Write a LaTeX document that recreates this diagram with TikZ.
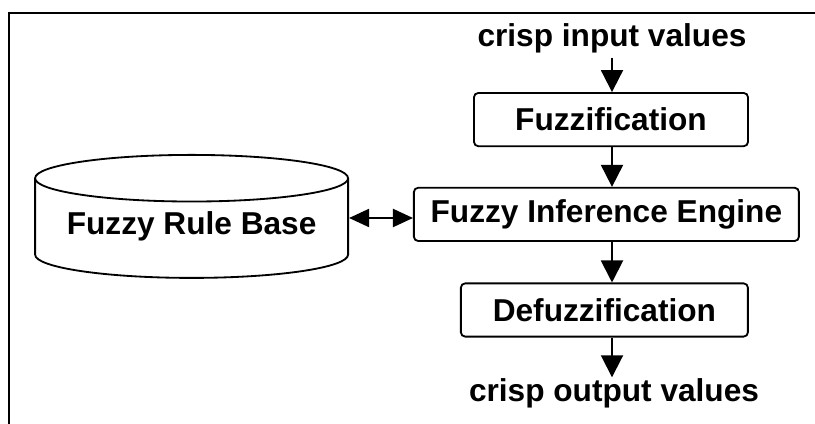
\documentclass[tikz,border=0pt]{standalone}
\usepackage{fontspec}
\setmainfont{Liberation Sans}
\usetikzlibrary{shapes, shapes.geometric, arrows.meta, calc, positioning}

\tikzset{
    stage/.style = {draw, rounded corners=3pt, line width=1.3pt, minimum height=1.33cm},
    flow/.style = {line width=1.4pt, -{Triangle[width=0.55cm, length=0.55cm]}}
}

\begin{document}
\begin{tikzpicture}[every node/.style = {font=\fontsize{22.5}{27}\selectfont\bfseries}]
        \useasboundingbox (0, 0) rectangle (20.375, 10.6);
        \draw [line width=1.4pt] (0.225, -0.2) -- (0.225, 10.275) -- (20.6, 10.275);

        \node[anchor=center] (Nin) at (15.3, 9.65) {crisp input values};

        \node[anchor=center, stage, minimum width=6.85cm] (Nfuz) at (15.275, 7.61) {Fuzzification};

        \node[anchor=center, stage, minimum width=9.625cm] (Ninf) at (15.16, 5.24) {Fuzzy Inference Engine};

        \node[anchor=center, stage, minimum width=7.175cm] (Ndef) at (15.11, 2.85) {Defuzzification};

        \node[anchor=center] (Nout) at (15.35, 0.775) {crisp output values};

        % the rule base: drum shape (phantom keeps the cap size), label set a bit higher
        \node[anchor=north, cylinder, shape border rotate=90, draw, line width=1.3pt,
              aspect=0.18, minimum width=7.825cm, minimum height=3.075cm] (Nbase) at (4.79, 6.75) {\phantom{Fuzzy Rule Base}};
        \node[anchor=center] (Nrule) at (4.79, 4.93) {Fuzzy Rule Base};

        \draw [flow] (Nin.south -| 15.3, 0) -- (Nfuz.north -| 15.3, 0);
        \draw [flow] (Nfuz.south -| 15.3, 0) -- (Ninf.north -| 15.3, 0);
        \draw [flow] (Ninf.south -| 15.3, 0) -- (Ndef.north -| 15.3, 0);
        \draw [flow] (Ndef.south -| 15.3, 0) -- ($(Nout.north -| 15.3, 0) + (0, -0.1)$);
        \draw [line width=1.4pt, {Triangle[width=0.45cm, length=0.5cm]}-{Triangle[width=0.45cm, length=0.5cm]}]
            (Nbase.east |- 0, 5.15) -- (Ninf.west |- 0, 5.15);
    \end{tikzpicture}
\end{document}
